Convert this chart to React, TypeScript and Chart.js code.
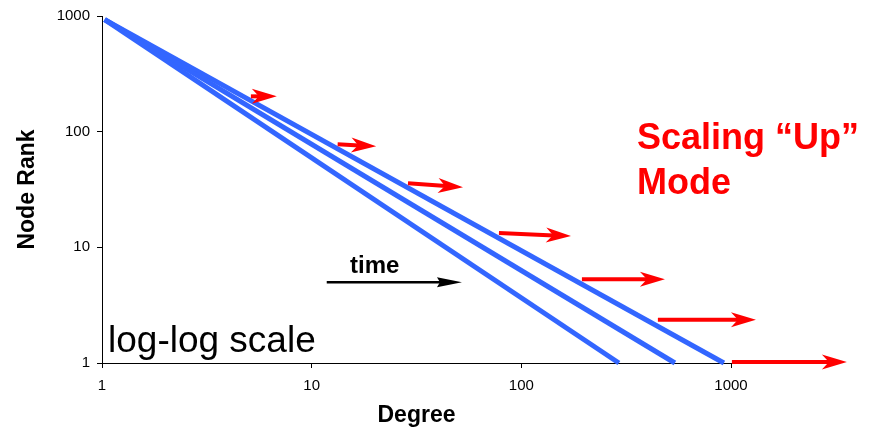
import React, { useEffect, useRef } from 'react';
import { Chart, registerables } from 'chart.js';

Chart.register(...registerables);

const FONT = '"Liberation Sans", Arial, Helvetica, sans-serif';

// Three power-law rank/degree lines at successive times
const seriesNames = ['t1', 't2', 't3'];
const startDegree = 1.03;
const startRank = 930;
const endDegrees = [292, 540, 925];
const endRank = 1;

const xTickValues = [1, 10, 100, 1000];
const yTickValues = [1, 10, 100, 1000];

// Red "scaling up" arrows (degree from -> to, at rank)
const redArrowStartX = [5.13, 13.3, 28.8, 78.2, 194.5, 448, 1010];
const redArrowEndX = [6.82, 20.3, 52.7, 172.5, 484, 1315, 3570];
const redArrowStartY = [202, 77.8, 35.8, 13.3, 5.31, 2.37, 1.02];
const redArrowEndY = [202, 74.8, 33.1, 12.5, 5.31, 2.37, 1.02];

// Black "time" arrow
const timeArrowX = [11.8, 52.1];
const timeArrowY = 5.0;

const xTitle = 'Degree';
const yTitle = 'Node Rank';
const noteText = 'log-log scale';
const modeLines = ['Scaling \u201cUp\u201d', 'Mode'];
const timeText = 'time';

function drawArrow(
  ctx: CanvasRenderingContext2D,
  x1: number, y1: number, x2: number, y2: number,
  color: string, lw: number, headLen: number, headHalf: number, notch: number
) {
  const ang = Math.atan2(y2 - y1, x2 - x1);
  const len = Math.hypot(x2 - x1, y2 - y1);
  ctx.save();
  ctx.translate(x2, y2);
  ctx.rotate(ang);
  ctx.strokeStyle = color;
  ctx.lineWidth = lw;
  ctx.lineCap = 'butt';
  ctx.beginPath();
  ctx.moveTo(-len, 0);
  ctx.lineTo(-headLen + notch + 1, 0);
  ctx.stroke();
  ctx.fillStyle = color;
  ctx.beginPath();
  ctx.moveTo(0, 0);
  ctx.lineTo(-headLen, -headHalf);
  ctx.lineTo(-headLen + notch, 0);
  ctx.lineTo(-headLen, headHalf);
  ctx.closePath();
  ctx.fill();
  ctx.restore();
}

const annotationPlugin = {
  id: 'annotations',
  afterDatasetsDraw(chart: any) {
    const { ctx, chartArea, scales } = chart;
    const xs = scales.x;
    const ys = scales.y;
    ctx.save();
    for (let i = 0; i < redArrowStartX.length; i++) {
      drawArrow(
        ctx,
        xs.getPixelForValue(redArrowStartX[i]), ys.getPixelForValue(redArrowStartY[i]),
        xs.getPixelForValue(redArrowEndX[i]), ys.getPixelForValue(redArrowEndY[i]),
        '#FF0000', 4, 25, 7.5, 7
      );
    }
    const tx1 = xs.getPixelForValue(timeArrowX[0]);
    const tx2 = xs.getPixelForValue(timeArrowX[1]);
    const ty = ys.getPixelForValue(timeArrowY);
    drawArrow(ctx, tx1, ty, tx2, ty, '#000000', 2.5, 25, 5, 3);

    ctx.fillStyle = '#000';
    ctx.textBaseline = 'alphabetic';
    ctx.textAlign = 'center';
    ctx.font = `bold 24px ${FONT}`;
    ctx.fillText(timeText, tx1 + 48, ty - 9);

    ctx.textAlign = 'left';
    ctx.font = `37px ${FONT}`;
    ctx.fillText(noteText, chartArea.left + 6, chartArea.bottom - 11);

    ctx.fillStyle = '#FF0000';
    ctx.font = `bold 36px ${FONT}`;
    ctx.fillText(modeLines[0], chartArea.left + 535, chartArea.top + 133);
    ctx.fillText(modeLines[1], chartArea.left + 535, chartArea.top + 178);
    ctx.restore();
  },
};

export default function App() {
  const ref = useRef<HTMLCanvasElement | null>(null);
  useEffect(() => {
    if (!ref.current) return;
    const chart = new Chart(ref.current, {
      type: 'scatter',
      data: {
        datasets: endDegrees.map((e, i) => ({
          label: seriesNames[i],
          data: [
            { x: startDegree, y: startRank },
            { x: e, y: endRank },
          ],
          showLine: true,
          borderColor: '#3366FF',
          backgroundColor: '#3366FF',
          borderWidth: 5,
          borderCapStyle: 'butt',
          pointRadius: 0,
          clip: false,
        })),
      },
      options: {
        animation: false,
        responsive: false,
        layout: { padding: { left: 0, right: 145, top: 16, bottom: 0 } },
        plugins: {
          legend: { display: false },
          tooltip: { enabled: false },
        },
        scales: {
          x: {
            type: 'logarithmic',
            min: 1,
            max: 1000,
            afterBuildTicks: (s: any) => {
              s.ticks = xTickValues.map((v) => ({ value: v }));
            },
            afterFit: (s: any) => {
              s.height = 66;
            },
            ticks: {
              callback: (v: any) => String(v),
              font: { family: FONT, size: 15 },
              color: '#000',
              padding: 9,
              autoSkip: false,
              maxRotation: 0,
            },
            grid: { drawOnChartArea: false, drawTicks: true, tickLength: 5, color: '#000' },
            border: { color: '#000', width: 1 },
            title: {
              display: true,
              text: xTitle,
              color: '#000',
              font: { family: FONT, size: 23, weight: 'bold' },
              padding: { top: 0, bottom: 0 },
            },
          },
          y: {
            type: 'logarithmic',
            min: 1,
            max: 1000,
            afterBuildTicks: (s: any) => {
              s.ticks = yTickValues.map((v) => ({ value: v }));
            },
            afterFit: (s: any) => {
              s.width = 102;
            },
            ticks: {
              callback: (v: any) => String(v),
              font: { family: FONT, size: 15 },
              color: '#000',
              padding: 7,
              autoSkip: false,
            },
            grid: { drawOnChartArea: false, drawTicks: true, tickLength: 5, color: '#000' },
            border: { color: '#000', width: 1 },
            title: {
              display: true,
              text: yTitle,
              color: '#000',
              font: { family: FONT, size: 23, weight: 'bold' },
              padding: { top: 14, bottom: 0 },
            },
          },
        },
      } as any,
      plugins: [annotationPlugin],
    });
    return () => chart.destroy();
  }, []);
  return (
    <div style={{ position: 'fixed', left: 0, top: 0, width: 876, height: 429, background: '#fff' }}>
      <canvas ref={ref} width={876} height={429} style={{ display: 'block' }} />
    </div>
  );
}
